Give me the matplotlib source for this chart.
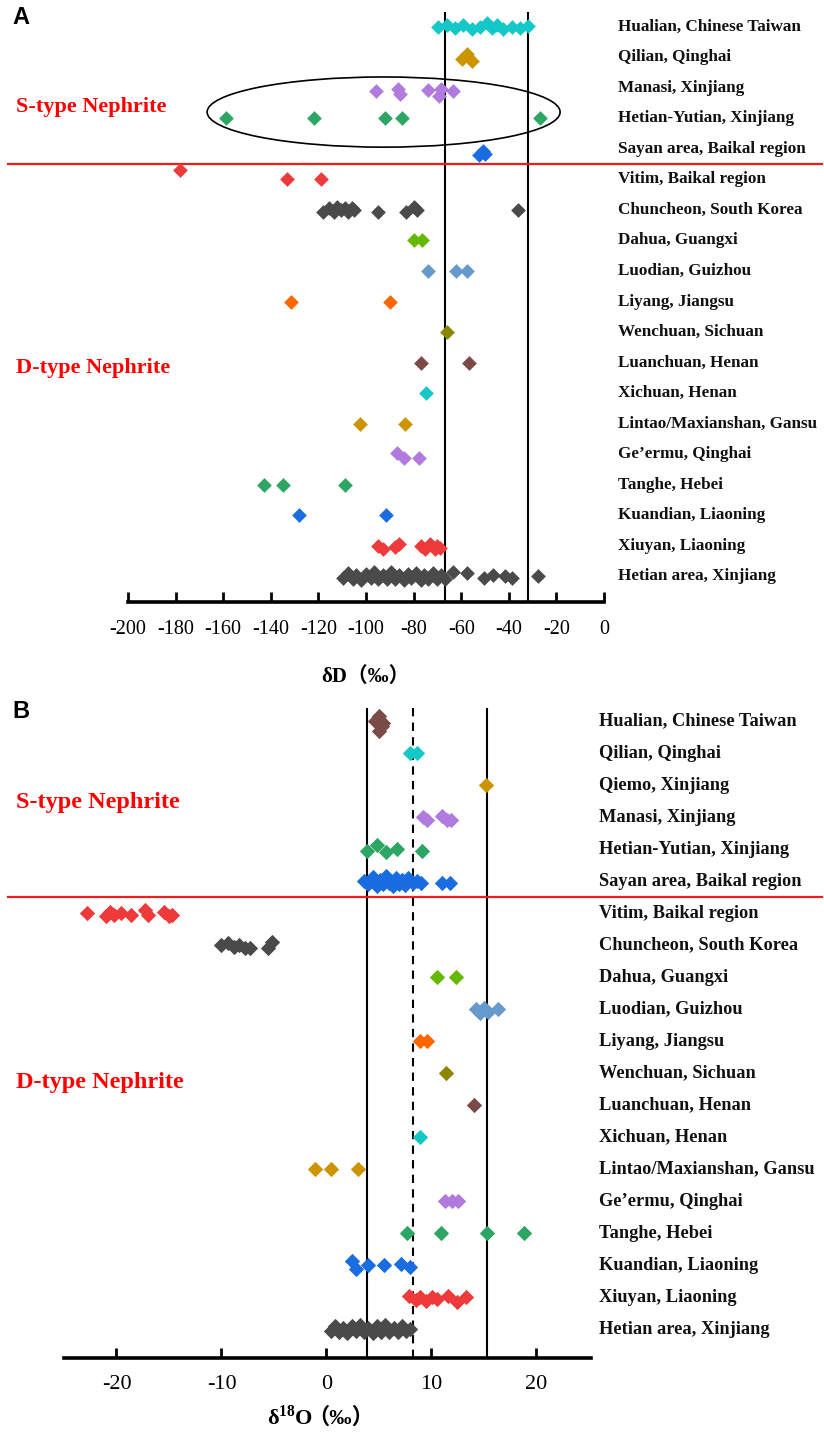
import matplotlib
matplotlib.use("Agg")
import matplotlib.pyplot as plt
from matplotlib.patches import Ellipse
from matplotlib.transforms import blended_transform_factory

# ---- panel A: deltaD (per mil) by locality -------------------------------
labels_a = [
    "Hualian, Chinese Taiwan", "Qilian, Qinghai", "Manasi, Xinjiang",
    "Hetian-Yutian, Xinjiang", "Sayan area, Baikal region",
    "Vitim, Baikal region", "Chuncheon, South Korea", "Dahua, Guangxi",
    "Luodian, Guizhou", "Liyang, Jiangsu", "Wenchuan, Sichuan",
    "Luanchuan, Henan", "Xichuan, Henan", "Lintao/Maxianshan, Gansu",
    "Ge\u2019ermu, Qinghai", "Tanghe, Hebei", "Kuandian, Liaoning",
    "Xiuyan, Liaoning", "Hetian area, Xinjiang",
]
values_a = [
    [-69.6, -66.1, -62.6, -59.1, -55.6, -52.1, -49.3, -47.2, -45.1, -42.3, -38.8, -35.3, -31.8],
    [-59.5, -57.5, -55.5],
    [-96, -86.5, -85.7, -74, -69.3, -68.5, -63.4],
    [-159, -122, -92, -85, -27],
    [-52.5, -51, -50],
    [-178, -133, -119],
    [-118, -115.5, -113.5, -112, -110.5, -109, -107.5, -106, -105, -95, -83, -80, -78.5, -36],
    [-80, -76.5],
    [-74, -62, -57.6],
    [-131.5, -90],
    [-66],
    [-77, -56.7],
    [-74.8],
    [-102.5, -83.6],
    [-87, -84, -77.7],
    [-143, -135, -109],
    [-128, -91.6],
    [-95, -93, -88, -86, -77, -75, -73, -71, -70, -69],
    [-109.5, -107.5, -105.5, -104, -102, -100, -98, -96.5, -95, -93, -91, -89.5,
     -88, -86, -84, -82.5, -81, -79, -77, -75.5, -74, -72, -70, -68.5, -67,
     -63.4, -57.6, -50.4, -46.6, -41.6, -38.7, -27.7],
]
# vertical position of points relative to their row (rows)
dy_a = {
    0: [0, -0.08, 0.05, -0.05, 0.08, 0, -0.12, 0.05, -0.05, 0.08, 0, 0.05, -0.03],
    1: [0.05, -0.1, 0.1],
    2: [0.1, 0.05, 0.2, 0.08, 0.25, 0.05, 0.1],
    4: [0.2, 0.05, 0.15],
    5: [-0.3, 0, 0],
    6: [0.05, -0.05, 0.05, -0.1, 0.0, -0.08, 0.05, -0.05, 0.0, 0.05, 0.05, -0.1, 0.0, 0.0],
    14: [-0.05, 0.12, 0.12],
    17: [0, 0.12, 0.05, -0.05, 0, 0.1, -0.05, 0.12, 0, 0.08],
    18: [0.05, -0.1, 0.08, -0.05, 0.12, -0.08, 0.05, -0.12, 0.1, -0.05, 0.08,
         -0.12, 0.1, -0.05, 0.12, -0.08, 0.05, -0.1, 0.12, -0.05, 0.08, -0.1,
         0.1, -0.05, 0.08, -0.12, -0.1, 0.05, -0.02, 0.0, 0.05, 0.0],
}
lines_a = [-67, -32]

# ---- panel B: delta18O (per mil) by locality -----------------------------
labels_b = [
    "Hualian, Chinese Taiwan", "Qilian, Qinghai", "Qiemo, Xinjiang",
    "Manasi, Xinjiang", "Hetian-Yutian, Xinjiang", "Sayan area, Baikal region",
    "Vitim, Baikal region", "Chuncheon, South Korea", "Dahua, Guangxi",
    "Luodian, Guizhou", "Liyang, Jiangsu", "Wenchuan, Sichuan",
    "Luanchuan, Henan", "Xichuan, Henan", "Lintao/Maxianshan, Gansu",
    "Ge\u2019ermu, Qinghai", "Tanghe, Hebei", "Kuandian, Liaoning",
    "Xiuyan, Liaoning", "Hetian area, Xinjiang",
]
values_b = [
    [4.6, 5.0, 5.3, 5.0, 5.4],
    [8.0, 8.6],
    [15.2],
    [9.2, 9.6, 11.0, 11.5, 11.9],
    [3.9, 4.8, 5.7, 6.7, 9.1],
    [3.6, 4.0, 4.4, 4.8, 5.1, 5.4, 5.7, 6.0, 6.3, 6.6, 6.9, 7.2, 7.5, 7.8, 8.2, 8.6, 9.0, 11.0, 11.8],
    [-22.8, -21.0, -20.6, -20.2, -19.6, -18.6, -17.3, -17.0, -15.5, -15.0, -14.7],
    [-10.0, -9.4, -8.8, -8.3, -7.8, -7.3, -5.6, -5.2],
    [10.5, 12.3],
    [14.2, 14.6, 15.0, 15.4, 16.3],
    [8.9, 9.6],
    [11.4],
    [14.1],
    [8.9],
    [-1.05, 0.45, 2.96],
    [11.3, 12.0, 12.5],
    [7.7, 10.9, 15.3, 18.8],
    [2.4, 2.8, 3.95, 5.5, 7.1, 8.0],
    [7.9, 8.5, 8.9, 9.5, 10.1, 10.5, 11.6, 12.4, 13.3],
    [0.4, 0.8, 1.2, 1.6, 2.0, 2.4, 2.8, 3.2, 3.6, 4.0, 4.4, 4.8, 5.2, 5.6, 6.0,
     6.4, 6.8, 7.2, 7.6, 8.0],
]
dy_b = {
    0: [0.0, -0.15, 0.15, 0.3, 0.05],
    3: [0.0, 0.1, -0.05, 0.1, 0.1],
    4: [0.05, -0.12, 0.1, 0.0, 0.05],
    5: [0.0, 0.1, -0.12, 0.15, -0.05, 0.1, -0.15, 0.05, 0.15, -0.1, 0.1, -0.05, 0.12, -0.1, 0.05, 0.0, 0.05, 0.05, 0.05],
    6: [0.0, 0.1, -0.05, 0.05, 0.0, 0.05, -0.1, 0.05, -0.05, 0.1, 0.05],
    7: [0.0, -0.08, 0.05, 0.0, 0.08, 0.1, 0.1, -0.1],
    9: [0.0, 0.12, -0.05, 0.1, 0.0],
    17: [-0.12, 0.12, 0.0, 0.0, -0.05, 0.05],
    18: [-0.05, 0.1, 0.0, 0.12, -0.02, 0.05, -0.05, 0.15, -0.02],
    19: [0.05, -0.1, 0.1, -0.05, 0.12, -0.1, 0.05, -0.12, 0.1, -0.05, 0.12,
         -0.1, 0.08, -0.12, 0.1, -0.05, 0.1, -0.1, 0.05, 0.0],
}
solid_b = [3.9, 15.3]
dashed_b = [8.2]

# ---- styling -------------------------------------------------------------
CYAN, GOLD, PURPLE, GREEN = "#14c8c8", "#cc9400", "#b07ade", "#2da563"
BLUE, RED, GRAY, LIME = "#1a6de0", "#ee3a3a", "#4a4a4a", "#66b800"
STEEL, ORANGE, OLIVE, BROWN = "#6699cc", "#ff6600", "#8a8600", "#7a4a48"
colors_a = [CYAN, GOLD, PURPLE, GREEN, BLUE, RED, GRAY, LIME, STEEL, ORANGE,
            OLIVE, BROWN, CYAN, GOLD, PURPLE, GREEN, BLUE, RED, GRAY]
colors_b = [BROWN, CYAN, GOLD, PURPLE, GREEN, BLUE, RED, GRAY, LIME, STEEL,
            ORANGE, OLIVE, BROWN, CYAN, GOLD, PURPLE, GREEN, BLUE, RED, GRAY]

SERIF = ["Liberation Serif", "Noto Sans CJK SC"]
plt.rcParams["font.family"] = SERIF
plt.rcParams["axes.unicode_minus"] = False
plt.rcParams["mathtext.fontset"] = "custom"
plt.rcParams["mathtext.rm"] = "Liberation Serif:bold"
plt.rcParams["mathtext.bf"] = "Liberation Serif:bold"

W, H = 824, 1437
fig = plt.figure(figsize=(W / 100, H / 100), dpi=100)


def px_axes(left, top, right, bottom):
    return fig.add_axes([left / W, 1 - bottom / H, (right - left) / W, (bottom - top) / H])


def draw_panel(ax, labels, values, dys, colors, label_x, ms, fs_lab, fs_tick, pad):
    for i, (vals, c) in enumerate(zip(values, colors)):
        offs = dys.get(i, [0] * len(vals))
        ys = [i + d for d, _ in zip(offs, vals)]
        ax.scatter(vals, ys, marker="D", s=ms ** 2, color=c, linewidths=0, zorder=3)
    tr = blended_transform_factory(ax.transAxes, ax.transData)
    for i, lab in enumerate(labels):
        ax.text(label_x, i, lab, transform=tr, ha="left", va="center",
                fontsize=fs_lab, fontweight="bold", color="#111111")
    for s in ("top", "left", "right"):
        ax.spines[s].set_visible(False)
    ax.spines["bottom"].set_linewidth(2.6)
    ax.set_yticks([])
    ax.tick_params(axis="x", direction="in", length=7, width=2, pad=pad, labelsize=fs_tick)
    return tr


# ---- panel A -------------------------------------------------------------
ax_a = px_axes(128, 12, 604, 602)
ax_a.set_xlim(-200, 0)
ax_a.set_ylim(18.85, -0.49)
ax_a.set_xticks(range(-200, 1, 20))
for v in lines_a:
    ax_a.axvline(v, color="black", lw=1.5, zorder=2)
tr_a = draw_panel(ax_a, labels_a, values_a, dy_a, colors_a, 1.029, 7.5, 12.3, 14.5, 13)
ax_a.axhline(4.5, xmin=-0.252, xmax=1.458, color="#ee1c1c", lw=1.6, clip_on=False)
ax_a.add_patch(Ellipse((-92.6, 2.79), 148.3, 2.3, fill=False, ec="black", lw=1.2, zorder=4))
ax_a.text(-0.235, 2.62, "S-type Nephrite", transform=tr_a, color="#ff0000",
          fontsize=16, fontweight="bold", va="center")
ax_a.text(-0.235, 11.18, "D-type Nephrite", transform=tr_a, color="#ff0000",
          fontsize=16, fontweight="bold", va="center")
ax_a.set_xlabel("\u03b4D\uff08\u2030\uff09", fontsize=15, fontweight="bold", labelpad=20)

# ---- panel B -------------------------------------------------------------
ax_b = px_axes(64, 708, 591, 1358)
ax_b.set_xlim(-25, 25.2)
ax_b.set_ylim(19.9, -0.41)
ax_b.set_xticks([-20, -10, 0, 10, 20])
for v in solid_b:
    ax_b.axvline(v, color="black", lw=1.5, zorder=2)
for v in dashed_b:
    ax_b.axvline(v, color="black", lw=1.5, ls=(0, (4, 3)), zorder=2)
tr_b = draw_panel(ax_b, labels_b, values_b, dy_b, colors_b, 1.015, 7.8, 13.2, 16, 12)
ax_b.axhline(5.5, xmin=-0.106, xmax=1.438, color="#ee1c1c", lw=1.6, clip_on=False)
ax_b.text(-0.091, 2.53, "S-type Nephrite", transform=tr_b, color="#ff0000",
          fontsize=17.5, fontweight="bold", va="center")
ax_b.text(-0.091, 11.28, "D-type Nephrite", transform=tr_b, color="#ff0000",
          fontsize=17.5, fontweight="bold", va="center")
# x label of B in two pieces so the full-width brackets can fall back to CJK
ax_b.text(0.4725, -0.092, "\u03b4$^{\\mathbf{18}}$O", transform=ax_b.transAxes,
          ha="right", va="center", fontsize=16, fontweight="bold")
ax_b.text(0.4625, -0.092, "\uff08\u2030\uff09", transform=ax_b.transAxes,
          ha="left", va="center", fontsize=16, fontweight="bold")

# panel letters
for letter, ypx in (("A", 18), ("B", 712)):
    fig.text(12 / W, 1 - ypx / H, letter, fontsize=17, fontweight="bold",
             family="Liberation Sans", va="center", ha="left")

fig.savefig("out.png", dpi=100)
